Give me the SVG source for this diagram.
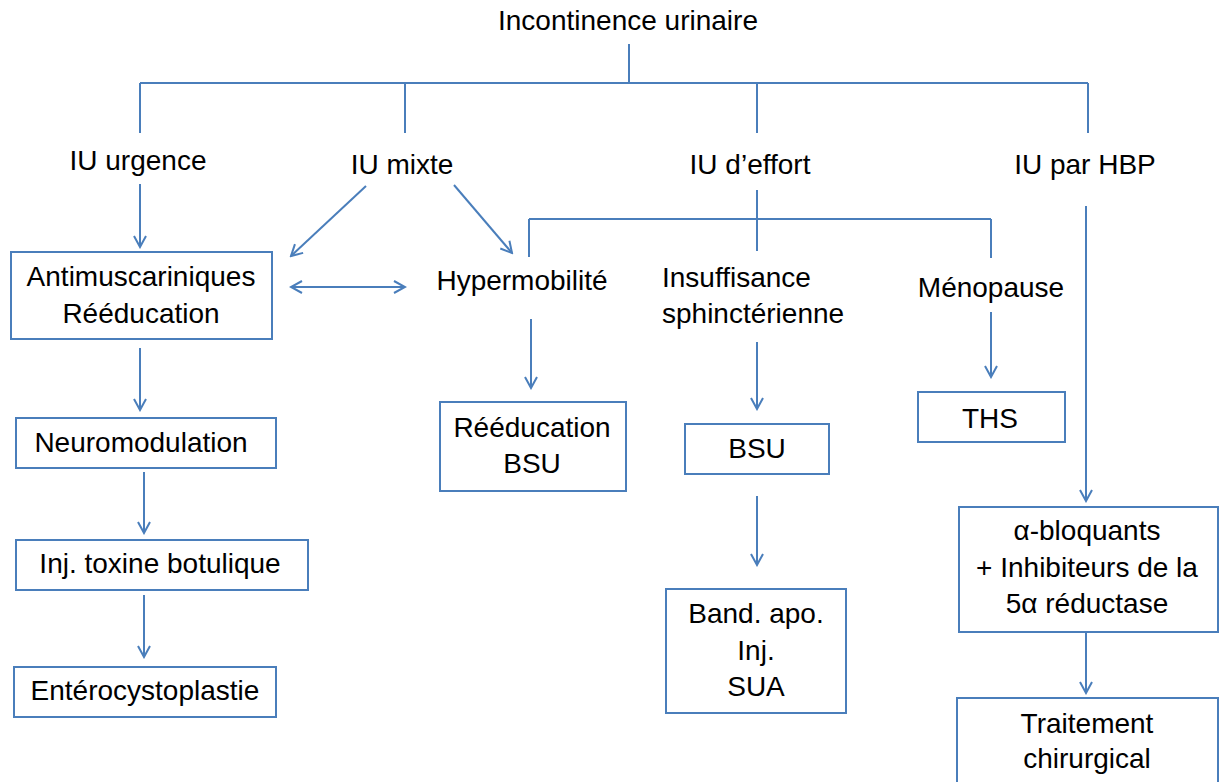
<svg xmlns="http://www.w3.org/2000/svg" width="1221" height="782" viewBox="0 0 1221 782">
<style>
text{font-family:"Liberation Sans",Arial,sans-serif;font-size:28px;fill:#000;text-anchor:middle}
.box{fill:#fff;stroke:#4A7EBB;stroke-width:2}
.ln{fill:none;stroke:#4A7EBB;stroke-width:2}
.ar{fill:none;stroke:#4A7EBB;stroke-width:2;marker-end:url(#ah)}
</style>
<defs>
<marker id="ah" markerUnits="userSpaceOnUse" markerWidth="14" markerHeight="14" viewBox="0 0 14 14" refX="12" refY="7" orient="auto-start-reverse">
<path d="M1,1 L12,7 L1,13" fill="none" stroke="#4A7EBB" stroke-width="2"/>
</marker>
</defs>
<rect width="1221" height="782" fill="#fff"/>
<g id="connectors">
<path class="ln" d="M629,44 V83 M140,83 H1088 M140,83 V133 M405,83 V133 M757,83 V133 M1088,83 V133"/>
<path class="ar" d="M140,184 V247"/>
<path class="ar" d="M366,186 L291,256"/>
<path class="ar" d="M454,185 L512,253"/>
<path class="ln" d="M757,190 V251"/>
<path class="ln" d="M529,219 H991 M529,219 V257 M991,219 V258"/>
<path class="ar" d="M291,287 H405" style="marker-start:url(#ah)"/>
<path class="ar" d="M531,319 V388"/>
<path class="ar" d="M757,342 V409"/>
<path class="ar" d="M991,312 V377"/>
<path class="ar" d="M1086,206 V501"/>
<path class="ar" d="M140,348 V410"/>
<path class="ar" d="M144,472 V533"/>
<path class="ar" d="M144,595 V657"/>
<path class="ar" d="M757,496 V565"/>
<path class="ar" d="M1086,632 V693"/>
</g>
<g id="n-title"><text x="628" y="30">Incontinence urinaire</text></g>
<g id="n-urgence"><text x="138" y="170">IU urgence</text></g>
<g id="n-mixte"><text x="402" y="174">IU mixte</text></g>
<g id="n-effort"><text x="750" y="174">IU d’effort</text></g>
<g id="n-hbp"><text x="1085" y="174">IU par HBP</text></g>
<g id="n-antimusc"><rect class="box" x="11" y="252" width="261" height="87"/><text x="141" y="286">Antimuscariniques</text><text x="141" y="323">Rééducation</text></g>
<g id="n-hypermob"><text x="522" y="290">Hypermobilité</text></g>
<g id="n-insuff"><text x="662" y="287" style="text-anchor:start">Insuffisance</text><text x="662" y="323" style="text-anchor:start">sphinctérienne</text></g>
<g id="n-menopause"><text x="991" y="297">Ménopause</text></g>
<g id="n-neuromod"><rect class="box" x="16" y="418" width="260" height="50"/><text x="141" y="452">Neuromodulation</text></g>
<g id="n-toxine"><rect class="box" x="16" y="540" width="292" height="50"/><text x="160" y="573">Inj. toxine botulique</text></g>
<g id="n-entero"><rect class="box" x="14" y="667" width="262" height="50"/><text x="145" y="700">Entérocystoplastie</text></g>
<g id="n-reeduc"><rect class="box" x="440" y="402" width="186" height="89"/><text x="532" y="437">Rééducation</text><text x="532" y="473">BSU</text></g>
<g id="n-bsu"><rect class="box" x="685" y="424" width="144" height="50"/><text x="757" y="458">BSU</text></g>
<g id="n-band"><rect class="box" x="666" y="589" width="180" height="124"/><text x="756" y="623">Band. apo.</text><text x="756" y="660">Inj.</text><text x="756" y="696">SUA</text></g>
<g id="n-ths"><rect class="box" x="918" y="392" width="147" height="50"/><text x="990" y="428">THS</text></g>
<g id="n-alpha"><rect class="box" x="959" y="507" width="259" height="125"/><text x="1087" y="540">α-bloquants</text><text x="1087" y="577">+ Inhibiteurs de la</text><text x="1087" y="613">5α réductase</text></g>
<g id="n-chir"><rect class="box" x="957" y="698" width="261" height="100"/><text x="1087" y="733">Traitement</text><text x="1087" y="768">chirurgical</text></g>
</svg>
